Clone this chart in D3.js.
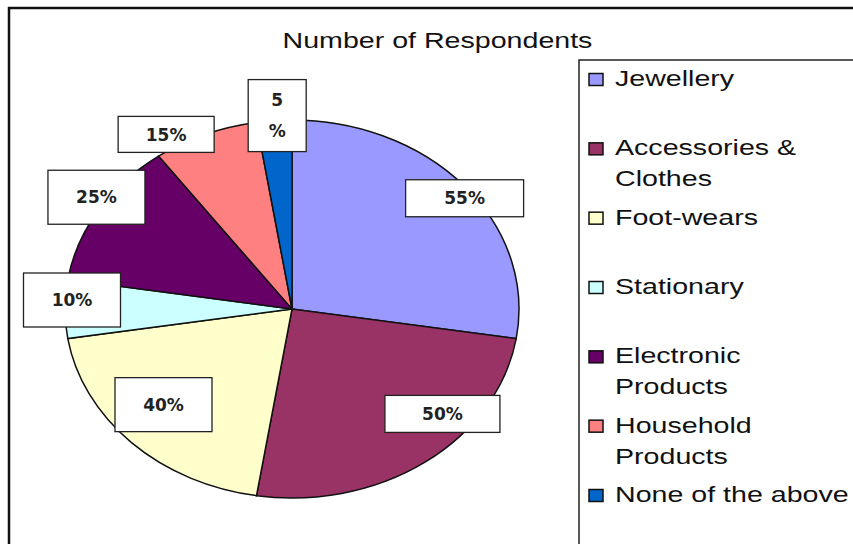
<!DOCTYPE html>
<html>
<head>
<meta charset="utf-8">
<script src="https://cdn.jsdelivr.net/npm/d3@7"></script>
<style>
  body { margin: 0; background: #fff; }
  svg { display: block; }
</style>
</head>
<body>
<svg id="chart"></svg>
<script>
// data
const categories = ["Jewellery", "Accessories & Clothes", "Foot-wears", "Stationary",
    "Electronic Products", "Household Products", "None of the above"];
const respondents = [55, 50, 40, 10, 25, 15, 5];
const legendLines = [["Jewellery"], ["Accessories &", "Clothes"], ["Foot-wears"], ["Stationary"],
    ["Electronic", "Products"], ["Household", "Products"], ["None of the above"]];
const sliceColors = ["#9999ff", "#993366", "#ffffcc", "#ccffff", "#660066", "#ff8080", "#0066cc"];

// label boxes: nudge from the rim point of each slice, plus box size
const labelLayout = [
    {dx: 0, dy: 12, w: 118, h: 37},
    {dx: 17, dy: -48, w: 115, h: 37},
    {dx: 32, dy: -38, w: 97, h: 54},
    {dx: 7, dy: -9, w: 97, h: 54},
    {dx: -2, dy: -13, w: 97, h: 54},
    {dx: -39, dy: 0, w: 96, h: 36},
    {dx: 3, dy: -5, w: 58, h: 72, split: true}
];

const W = 853, H = 544;
const cx = 292, cy = 309, rx = 227, ry = 189;
const stretch = 1.3; // picture is widened horizontally

const svg = d3.select("#chart").attr("width", W).attr("height", H);

// outer chart frame (runs off the right and bottom edge)
svg.append("rect")
    .attr("x", 9).attr("y", 8)
    .attr("width", 900).attr("height", 600)
    .attr("fill", "#fff")
    .attr("stroke", "#111")
    .attr("stroke-width", 2.5);

// title
svg.append("text")
    .attr("transform", `translate(437.5,48) scale(${stretch},1)`)
    .attr("text-anchor", "middle")
    .attr("font-family", "Liberation Sans, Arial, sans-serif")
    .attr("font-size", 22)
    .attr("fill", "#111")
    .text("Number of Respondents");

// pie
const pie = d3.pie().sort(null).value(d => d)(respondents);
const arc = d3.arc().innerRadius(0).outerRadius(rx);
const rim = d3.arc().innerRadius(rx).outerRadius(rx);

const pieG = svg.append("g")
    .attr("transform", `translate(${cx},${cy}) scale(1,${ry / rx})`);

pieG.selectAll("path")
    .data(pie)
    .join("path")
    .attr("d", arc)
    .attr("fill", (d, i) => sliceColors[i])
    .attr("stroke", "#111")
    .attr("stroke-width", 1.5)
    .attr("vector-effect", "non-scaling-stroke");

// data labels
const labelG = svg.append("g");
pie.forEach((d, i) => {
    const lay = labelLayout[i];
    const c = rim.centroid(d);
    const x = cx + c[0] + lay.dx;
    const y = cy + c[1] * ry / rx + lay.dy;
    const g = labelG.append("g").attr("transform", `translate(${x},${y})`);
    g.append("rect")
        .attr("x", -lay.w / 2).attr("y", -lay.h / 2)
        .attr("width", lay.w).attr("height", lay.h)
        .attr("fill", "#fff")
        .attr("stroke", "#222")
        .attr("stroke-width", 1.3);
    const lines = lay.split ? [String(d.value), "%"] : [d.value + "%"];
    lines.forEach((t, j) => {
        g.append("text")
            .attr("x", 0)
            .attr("y", (j - (lines.length - 1) / 2) * 31)
            .attr("dy", "0.36em")
            .attr("text-anchor", "middle")
            .attr("font-family", "DejaVu Sans, Verdana, sans-serif")
            .attr("font-weight", "bold")
            .attr("font-size", 17)
            .attr("fill", "#222")
            .text(t);
    });
});

// legend
const legendX = 579, legendY = 60;
svg.append("rect")
    .attr("x", legendX).attr("y", legendY)
    .attr("width", 400).attr("height", 600)
    .attr("fill", "#fff")
    .attr("stroke", "#222")
    .attr("stroke-width", 1.5);

const slotY = d3.scaleLinear().domain([0, categories.length - 1]).range([86, 502]);

categories.forEach((name, i) => {
    const by = slotY(i);
    svg.append("rect")
        .attr("x", 589).attr("y", by - 12.5)
        .attr("width", 14).attr("height", 12)
        .attr("fill", sliceColors[i])
        .attr("stroke", "#111")
        .attr("stroke-width", 1.5);
    legendLines[i].forEach((t, j) => {
        svg.append("text")
            .attr("transform", `translate(615,${by + j * 31}) scale(${stretch},1)`)
            .attr("font-family", "Liberation Sans, Arial, sans-serif")
            .attr("font-size", 22)
            .attr("fill", "#111")
            .text(t);
    });
});
</script>
</body>
</html>
